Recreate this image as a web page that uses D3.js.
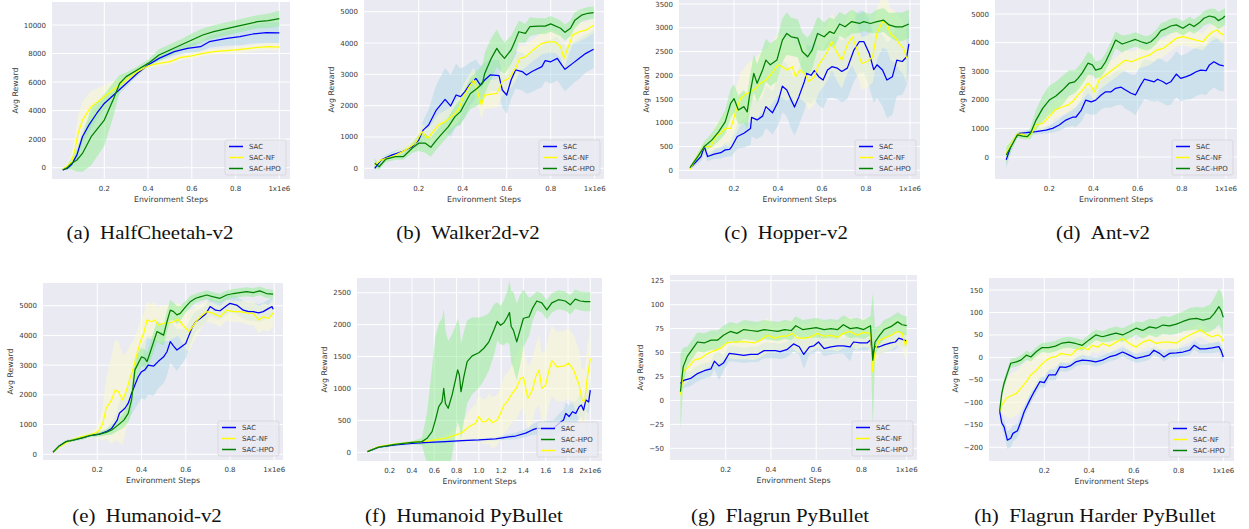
<!DOCTYPE html>
<html><head><meta charset="utf-8">
<script src="https://cdn.jsdelivr.net/npm/d3@7"></script>
<style>
html,body{margin:0;padding:0;background:#fff;}
svg{display:block;}
</style></head>
<body>
<svg id="chart" width="1249" height="529"></svg>
<script>
// ---------------- DATA ----------------
const seriesNames = ["SAC", "SAC-NF", "SAC-HPO"];
const captions = ["(a)\u2002HalfCheetah-v2","(b)\u2002Walker2d-v2","(c)\u2002Hopper-v2","(d)\u2002Ant-v2",
  "(e)\u2002Humanoid-v2","(f)\u2002Humanoid PyBullet","(g)\u2002Flagrun PyBullet","(h)\u2002Flagrun Harder PyBullet"];
const xTicks1M = [0.2,0.4,0.6,0.8,1.0];
const xTickLabels1M = ["0.2","0.4","0.6","0.8","1x1e6"];
const xTicks2M = [0.2,0.4,0.6,0.8,1.0,1.2,1.4,1.6,1.8,2.0];
const xTickLabels2M = ["0.2","0.4","0.6","0.8","1.0","1.2","1.4","1.6","1.8","2x1e6"];
const yTicksA = [0,2000,4000,6000,8000,10000];
const yTicksB = [0,1000,2000,3000,4000,5000];
const yTicksC = [0,500,1000,1500,2000,2500,3000,3500];
const yTicksD = [0,1000,2000,3000,4000,5000];
const yTicksE = [0,1000,2000,3000,4000,5000];
const yTicksF = [0,500,1000,1500,2000,2500];
const yTicksG = [-50,-25,0,25,50,75,100,125];
const yTicksH = [-200,-150,-100,-50,0,50,100,150];

// (a) HalfCheetah-v2
const aSacX = [0.01,0.03,0.05,0.075,0.1,0.13,0.165,0.2,0.25,0.3,0.35,0.4,0.45,0.52,0.58,0.64,0.68,0.76,0.82,0.88,0.94,1.0];
const aSac  = [-150,-50,200,900,2170,3000,3800,4500,5200,5900,6600,7200,7660,8130,8360,8480,8830,9070,9180,9370,9460,9450];
const aSacSd= [50,100,200,400,500,500,450,400,350,250,200,150,200,250,300,350,400,500,600,650,700,700];
const aNfX = [0.01,0.03,0.05,0.065,0.08,0.1,0.14,0.2,0.25,0.3,0.35,0.4,0.45,0.5,0.55,0.6,0.65,0.7,0.8,0.9,0.95,1.0];
const aNf  = [-100,100,400,1200,2400,3340,4280,4980,5560,6150,6730,7130,7310,7430,7730,7830,8010,8130,8250,8430,8480,8450];
const aNfSd= [50,200,600,1000,1300,1300,1100,800,600,300,200,150,200,200,200,200,200,200,250,250,250,250];
const aHpoX = [0.01,0.03,0.05,0.075,0.1,0.14,0.2,0.24,0.27,0.3,0.35,0.4,0.45,0.5,0.55,0.6,0.65,0.7,0.8,0.9,0.95,1.0];
const aHpo  = [-150,0,300,540,1000,2170,3340,4740,5900,6380,6850,7310,7900,8250,8600,8950,9300,9530,9880,10230,10300,10450];
const aHpoSd= [50,150,400,800,1300,2000,1800,1200,600,300,250,250,400,400,400,450,450,450,450,450,500,550];

// (b) Walker2d-v2
const bSacX = [0,0.03,0.08,0.125,0.17,0.2,0.22,0.245,0.28,0.32,0.345,0.37,0.39,0.41,0.43,0.46,0.48,0.5,0.525,0.565,0.58,0.6,0.62,0.64,0.67,0.69,0.715,0.76,0.775,0.8,0.83,0.85,0.865,0.9,0.93,0.96,0.995];
const bSac  = [0,270,430,530,690,900,1220,1380,1860,2200,1990,2340,2290,2450,2660,2870,2660,2820,2980,2960,2500,2340,2820,3140,3090,2980,3090,3245,3440,3400,3510,3300,3160,3350,3510,3670,3800];
const bSacSd= [50,80,100,120,150,200,300,500,800,1000,1000,1000,900,800,700,600,600,550,500,500,550,600,600,600,600,600,650,650,650,700,700,700,700,650,650,600,600];
const bNfX = [0,0.03,0.08,0.14,0.185,0.215,0.24,0.26,0.29,0.32,0.35,0.38,0.405,0.43,0.45,0.465,0.485,0.5,0.53,0.555,0.58,0.61,0.64,0.66,0.685,0.715,0.76,0.79,0.82,0.845,0.86,0.875,0.9,0.93,0.96,0.995];
const bNf  = [100,270,370,580,800,1170,960,1120,1380,1490,1650,1860,2290,2600,2820,2500,2020,2340,2370,2390,2770,2870,3190,3510,3560,3750,3990,4040,4040,3880,3510,3780,4260,4360,4410,4570];
const bNfSd= [50,80,100,150,200,250,300,300,350,350,350,400,400,400,400,400,450,450,450,450,450,400,400,400,350,350,350,350,350,350,350,300,300,300,250,250];
const bHpoX = [0,0.02,0.05,0.095,0.13,0.17,0.2,0.23,0.255,0.275,0.3,0.335,0.365,0.39,0.41,0.435,0.465,0.49,0.5,0.53,0.555,0.57,0.59,0.62,0.64,0.655,0.685,0.705,0.745,0.775,0.8,0.845,0.865,0.89,0.91,0.94,0.97,0.995];
const bHpo  = [160,50,290,370,370,640,800,800,670,850,1060,1330,1650,1810,2070,2390,2550,2710,3030,3510,3830,3670,3510,3780,4100,4360,4310,4520,4540,4540,4610,4470,4340,4470,4730,4890,4950,4970];
const bHpoSd= [150,100,100,100,100,150,250,300,300,300,300,300,350,400,450,500,550,600,650,650,600,550,500,450,400,350,300,300,250,250,250,250,250,250,250,200,200,200];

// (c) Hopper-v2
const cSacX = [0,0.05,0.065,0.08,0.11,0.14,0.16,0.18,0.19,0.215,0.245,0.275,0.28,0.305,0.33,0.345,0.375,0.4,0.42,0.44,0.46,0.475,0.495,0.52,0.53,0.55,0.565,0.585,0.605,0.625,0.645,0.67,0.69,0.715,0.745,0.77,0.79,0.815,0.835,0.85,0.875,0.895,0.92,0.94,0.965,0.985,0.995];
const cSac  = [40,290,500,290,340,370,430,440,500,710,780,880,1115,1060,1140,1340,1210,1440,1770,1690,1480,1330,1550,1870,2040,2000,2100,1970,1900,2110,2180,2150,2080,2150,2530,2710,2710,2460,2120,2220,2110,1900,1970,2320,2290,2390,2660];
const cSacSd= [30,100,150,100,100,120,150,150,200,250,300,350,400,400,400,450,450,500,550,550,600,600,600,600,600,600,600,600,600,600,650,650,650,650,650,650,650,700,700,700,750,800,800,750,700,600,600];
const cNfX = [0,0.025,0.065,0.095,0.115,0.14,0.16,0.185,0.21,0.23,0.255,0.275,0.3,0.32,0.345,0.365,0.4,0.42,0.44,0.465,0.48,0.5,0.525,0.54,0.565,0.585,0.61,0.625,0.645,0.67,0.69,0.715,0.738,0.76,0.78,0.805,0.83,0.85,0.875,0.895,0.91,0.935,0.95,0.97,0.985];
const cNf  = [20,230,500,500,710,780,880,880,1270,1510,1610,1650,1730,1830,1900,2000,2220,2180,2110,2180,1970,2110,2010,1870,1970,2220,2390,2500,2710,2460,2320,2640,2810,2530,2250,2290,2390,2880,3130,3090,2880,2780,2670,2570,2360];
const cNfSd= [30,80,120,150,250,300,350,400,500,550,600,650,650,650,650,650,650,650,650,650,600,600,600,600,600,600,600,600,600,600,600,600,600,550,550,550,550,550,550,550,550,550,550,550,550];
const cHpoX = [0,0.035,0.065,0.1,0.13,0.16,0.185,0.2,0.22,0.245,0.26,0.27,0.29,0.305,0.33,0.345,0.365,0.395,0.42,0.44,0.46,0.49,0.51,0.535,0.555,0.58,0.61,0.635,0.655,0.68,0.705,0.735,0.77,0.79,0.82,0.85,0.88,0.905,0.935,0.965,0.995];
const cHpo  = [55,290,500,640,810,1020,1410,1510,1270,1340,1230,1550,2040,1830,2110,2320,2220,2320,2740,2880,2810,2780,2500,2390,2530,2880,2810,2920,2880,3080,3020,3130,3090,3130,3090,3130,3160,3060,3020,3020,3080];
const cHpoSd= [30,80,100,150,200,250,300,300,300,350,350,350,400,400,450,450,450,450,450,450,400,400,400,400,400,350,300,300,300,250,250,250,200,200,200,250,250,250,300,300,300];

// (d) Ant-v2
const dSacX = [0.005,0.025,0.05,0.065,0.095,0.14,0.185,0.215,0.245,0.275,0.305,0.32,0.345,0.365,0.39,0.41,0.435,0.455,0.48,0.5,0.525,0.545,0.57,0.59,0.61,0.63,0.655,0.675,0.69,0.715,0.73,0.75,0.775,0.795,0.82,0.84,0.865,0.885,0.91,0.925,0.945,0.97,0.99];
const dSac  = [-100,360,710,830,850,890,940,1000,1120,1290,1390,1390,1640,1990,1930,1990,2170,2280,2280,2400,2440,2340,2230,2170,2460,2720,2670,2630,2720,2630,2550,2630,2900,2750,2810,2870,2980,3040,3020,3220,3330,3220,3190];
const dSacSd= [300,200,100,80,80,100,120,150,200,250,300,350,400,450,450,500,500,550,550,600,600,650,650,700,700,700,700,700,750,750,750,800,800,800,800,850,850,850,850,900,900,900,900];
const dNfX = [0.005,0.035,0.055,0.08,0.1,0.125,0.14,0.17,0.2,0.225,0.255,0.285,0.305,0.33,0.35,0.375,0.39,0.405,0.425,0.455,0.485,0.515,0.545,0.57,0.59,0.62,0.655,0.685,0.715,0.745,0.775,0.805,0.835,0.865,0.895,0.915,0.94,0.96,0.975,0.99];
const dNf  = [130,540,800,800,690,890,1120,1180,1410,1640,1740,1820,1930,2170,2340,2580,2460,2280,2690,2870,3040,3220,3390,3330,3390,3480,3570,3740,3800,3970,4150,4210,4150,4090,4030,4210,4380,4440,4320,4270];
const dNfSd= [300,150,100,100,100,150,200,250,300,300,300,300,300,350,350,350,350,350,350,350,350,350,350,350,350,350,350,350,300,300,300,300,300,300,300,300,300,300,300,300];
const dHpoX = [0.005,0.035,0.055,0.08,0.1,0.115,0.14,0.17,0.2,0.23,0.26,0.29,0.315,0.33,0.35,0.375,0.395,0.41,0.435,0.455,0.48,0.5,0.53,0.56,0.59,0.615,0.64,0.66,0.685,0.705,0.73,0.75,0.775,0.805,0.835,0.855,0.88,0.9,0.925,0.95,0.965,0.985,0.995];
const dHpo  = [70,480,770,730,710,830,1290,1700,1990,2130,2340,2580,2630,2750,2950,3280,3220,3040,3100,3330,3740,4090,3950,4030,4110,4030,3970,4030,4210,4420,4500,4580,4620,4500,4650,4560,4700,4850,4930,4880,4770,4850,4930];
const dHpoSd= [300,150,100,100,100,200,350,450,500,500,500,450,400,400,400,400,350,300,300,300,300,300,300,250,250,250,250,250,250,250,250,250,250,250,250,250,250,250,250,300,300,300,300];

// (e) Humanoid-v2
const eSacX = [0,0.025,0.06,0.09,0.135,0.165,0.21,0.24,0.265,0.29,0.3,0.325,0.34,0.355,0.37,0.385,0.4,0.415,0.43,0.455,0.475,0.5,0.515,0.53,0.545,0.56,0.58,0.6,0.615,0.63,0.645,0.665,0.69,0.71,0.735,0.755,0.78,0.8,0.83,0.86,0.885,0.905,0.93,0.95,0.975,0.99,0.995];
const eSac  = [70,260,430,480,560,630,680,760,870,1150,1380,1550,1720,2050,2330,2610,2780,2840,3000,2970,3120,3280,3450,3790,3640,3510,3620,3730,4010,4290,4460,4570,4720,4970,4850,4830,4970,5080,5020,4850,4800,4800,4760,4800,4910,4970,4880];
const eSacSd= [30,50,50,50,60,60,80,100,200,300,400,500,600,700,800,900,900,1000,1000,1000,900,900,800,700,700,700,600,500,450,400,350,300,300,300,300,300,300,300,300,300,300,300,300,300,300,300,300];
const eNfX = [0,0.03,0.075,0.12,0.165,0.195,0.21,0.225,0.24,0.265,0.28,0.295,0.315,0.33,0.35,0.365,0.38,0.395,0.41,0.425,0.445,0.46,0.475,0.5,0.52,0.545,0.565,0.58,0.6,0.615,0.63,0.65,0.675,0.695,0.725,0.755,0.785,0.815,0.845,0.875,0.905,0.93,0.95,0.975,0.995];
const eNf  = [70,260,450,570,650,730,820,1040,1550,1830,2160,2110,1830,2110,2610,2950,3400,3790,4070,4520,4460,4520,4350,4410,4410,4460,4540,4410,4240,4130,4290,4500,4690,4800,4740,4630,4850,4800,4800,4760,4740,4520,4630,4570,4760];
const eNfSd= [30,50,60,80,100,150,300,600,1000,1500,1700,1700,1500,1300,1100,900,800,700,700,600,600,600,600,600,600,550,550,600,700,700,600,500,400,350,350,350,350,350,350,400,400,450,450,450,450];
const eHpoX = [0,0.025,0.06,0.09,0.135,0.165,0.21,0.24,0.265,0.295,0.32,0.34,0.355,0.37,0.385,0.4,0.415,0.425,0.44,0.455,0.47,0.485,0.5,0.515,0.53,0.545,0.56,0.575,0.6,0.62,0.645,0.665,0.695,0.725,0.755,0.785,0.815,0.845,0.875,0.905,0.935,0.965,0.995];
const eHpo  = [70,260,430,480,560,630,680,740,820,990,1150,1380,1830,2840,3060,3280,3230,3120,3450,3790,4130,4070,4010,4460,4850,4800,4690,4740,4970,5130,5250,5300,5360,5300,5250,5360,5410,5440,5470,5440,5500,5410,5390];
const eHpoSd= [30,50,50,50,60,60,80,100,150,200,250,300,400,400,350,300,300,300,300,350,350,350,350,350,350,300,300,250,200,200,150,150,150,150,150,150,150,150,150,150,150,150,150];

// (f) Humanoid PyBullet
const fSacX = [0,0.1,0.25,0.4,0.55,0.7,0.85,1.0,1.15,1.24,1.33,1.42,1.48,1.52,1.6,1.67,1.72,1.76,1.78,1.81,1.84,1.87,1.9,1.92,1.94,1.96,1.985,2.0];
const fSac  = [10,80,115,140,155,167,183,193,210,235,255,300,350,375,375,375,455,505,610,560,635,610,715,740,660,820,790,975];
const fSacSd= [10,15,20,20,20,20,20,25,30,40,50,60,80,100,120,130,150,160,170,170,170,180,180,180,180,180,180,180];
const fNfX = [0,0.1,0.25,0.4,0.55,0.7,0.79,0.85,0.91,0.97,1.0,1.03,1.06,1.09,1.12,1.165,1.195,1.225,1.255,1.3,1.335,1.375,1.4,1.44,1.48,1.51,1.54,1.565,1.6,1.63,1.655,1.7,1.76,1.805,1.85,1.9,1.925,1.95,1.97,2.0];
const fNf  = [10,90,130,155,180,220,270,310,400,455,560,480,480,530,465,505,610,740,795,925,1000,1160,1175,845,975,1185,1290,1000,1055,1290,1435,1340,1350,1395,1290,1055,820,795,1130,1470];
const fNfSd= [10,15,20,20,30,50,100,150,250,300,350,350,350,400,400,400,400,450,450,450,500,500,500,500,500,500,550,550,550,550,550,550,550,550,550,550,500,500,500,500];
const fHpoX = [0,0.1,0.25,0.4,0.49,0.535,0.58,0.61,0.64,0.67,0.685,0.7,0.725,0.76,0.79,0.81,0.825,0.84,0.865,0.895,0.94,1.0,1.045,1.09,1.135,1.165,1.195,1.225,1.255,1.275,1.29,1.31,1.34,1.37,1.4,1.45,1.48,1.52,1.565,1.61,1.655,1.715,1.775,1.82,1.865,1.91,1.955,2.0];
const fHpo  = [10,80,125,155,167,220,325,505,715,795,1000,765,690,900,1130,1290,1210,950,1180,1420,1510,1560,1630,1730,1915,2050,1990,2030,2120,2190,1970,1915,1730,1915,2100,2120,2250,2370,2340,2230,2340,2390,2370,2310,2400,2370,2360,2360];
const fHpoSd= [10,15,20,20,60,400,1000,1300,1300,1300,1250,1150,1050,950,850,800,800,750,700,650,600,550,500,450,400,300,300,350,400,500,550,600,600,550,450,300,200,150,150,150,150,150,150,150,150,150,150,150];

// (g) Flagrun PyBullet
const gSacX = [0,0.015,0.045,0.075,0.105,0.135,0.15,0.17,0.19,0.215,0.25,0.28,0.31,0.34,0.37,0.4,0.42,0.44,0.47,0.5,0.525,0.545,0.57,0.59,0.61,0.635,0.665,0.695,0.72,0.75,0.765,0.795,0.825,0.84,0.85,0.86,0.88,0.9,0.93,0.95,0.965,0.99,1.0];
const gSac  = [18,21,23,28,31,33,41,36,39,49,48,47,48,48,52,52,52,51,53,59,56,48,56,57,61,54,56,57,57,56,61,60,60,63,46,56,56,58,60,61,65,63,62];
const gSacSd= [8,8,8,8,8,8,8,15,8,8,8,8,8,8,8,8,8,8,8,8,8,15,8,8,8,8,8,8,8,15,8,8,8,8,10,8,8,8,8,8,8,8,8];
const gNfX = [0,0.015,0.04,0.06,0.09,0.12,0.15,0.175,0.205,0.235,0.265,0.295,0.325,0.355,0.385,0.415,0.445,0.47,0.495,0.515,0.545,0.575,0.605,0.635,0.665,0.695,0.72,0.75,0.78,0.81,0.84,0.85,0.86,0.88,0.9,0.93,0.96,0.98,0.995,1.0];
const gNf  = [6,31,36,42,44,49,52,54,60,61,61,61,60,63,68,65,67,67,70,65,65,66,70,67,68,66,70,72,68,71,70,30,53,63,65,68,72,70,57,63];
const gNfSd= [20,15,15,15,15,15,15,15,15,18,18,18,18,18,18,15,15,15,15,15,15,15,15,15,15,15,15,15,15,15,15,20,15,15,15,15,15,15,15,15];
const gHpoX = [0,0.012,0.03,0.06,0.075,0.105,0.135,0.165,0.19,0.22,0.25,0.28,0.31,0.34,0.37,0.4,0.43,0.46,0.49,0.51,0.54,0.57,0.6,0.635,0.665,0.695,0.72,0.75,0.78,0.81,0.84,0.85,0.86,0.88,0.9,0.93,0.96,0.98,1.0];
const gHpo  = [9,35,46,56,61,60,63,63,68,72,70,74,73,72,74,73,72,74,73,78,74,75,76,74,75,74,79,75,76,74,78,42,61,68,74,77,82,79,78];
const gHpoSd= [40,20,10,10,10,10,10,10,10,10,10,10,10,10,10,10,10,10,10,10,10,10,10,10,10,10,10,10,10,10,10,70,15,10,10,10,10,10,10];

// (h) Flagrun Harder PyBullet
const hSacX = [0,0.01,0.02,0.035,0.05,0.06,0.08,0.095,0.11,0.135,0.155,0.18,0.2,0.22,0.25,0.27,0.295,0.315,0.34,0.37,0.4,0.43,0.46,0.49,0.52,0.55,0.58,0.61,0.64,0.67,0.69,0.715,0.735,0.76,0.79,0.82,0.85,0.87,0.895,0.92,0.95,0.98,0.99,1.0];
const hSac  = [-118,-146,-154,-184,-180,-169,-163,-143,-121,-95,-76,-54,-56,-39,-39,-21,-22,-19,-10,-6,-7,-10,-6,1,5,12,5,-2,1,5,16,9,1,9,10,12,16,27,19,19,21,24,15,1];
const hSacSd= [10,12,15,20,20,18,15,15,12,12,12,12,12,12,12,10,10,10,10,10,10,10,10,10,10,10,10,10,10,10,10,10,10,10,10,10,10,10,10,10,12,12,12,15];
const hNfX = [0,0.01,0.03,0.05,0.075,0.095,0.12,0.14,0.165,0.185,0.21,0.23,0.25,0.275,0.295,0.32,0.34,0.37,0.395,0.415,0.44,0.46,0.49,0.52,0.55,0.58,0.61,0.64,0.67,0.7,0.73,0.76,0.79,0.82,0.85,0.88,0.9,0.93,0.95,0.975,0.99,1.0];
const hNf  = [-121,-106,-91,-86,-80,-69,-54,-39,-28,-17,-6,0,1,9,7,5,16,22,17,27,23,31,25,34,42,31,23,34,39,31,34,34,32,42,50,57,61,50,46,50,46,35];
const hNfSd= [10,20,40,50,50,50,45,40,35,30,28,25,22,20,20,18,18,15,15,15,15,15,15,15,15,15,15,15,15,15,15,15,15,15,15,15,15,15,15,15,15,15];
const hHpoX = [0,0.01,0.02,0.035,0.05,0.075,0.095,0.12,0.14,0.165,0.19,0.22,0.25,0.28,0.31,0.34,0.37,0.4,0.43,0.46,0.49,0.52,0.55,0.58,0.61,0.64,0.67,0.7,0.73,0.76,0.79,0.82,0.85,0.88,0.91,0.94,0.96,0.98,0.99,1.0];
const hHpo  = [-121,-80,-58,-35,-13,-10,-6,5,1,13,22,22,25,32,34,31,27,39,50,46,50,54,50,57,65,60,68,65,72,70,74,80,85,87,83,87,98,113,105,89];
const hHpoSd= [10,10,10,10,10,10,10,10,10,10,10,12,12,12,12,12,12,12,12,12,15,15,15,15,15,18,18,20,20,20,22,22,25,25,28,30,35,40,40,40];

// ---------------- STYLE / LAYOUT ----------------
const lineColors = {"SAC":"#0000ff","SAC-NF":"#ffff00","SAC-HPO":"#008000"};
const bandColors = {"SAC":"#add8e6","SAC-NF":"#fafad2","SAC-HPO":"#90ee90"};
const bandOpacity = {"SAC":0.5,"SAC-NF":0.55,"SAC-HPO":0.5};

const panels = [
 {box:[52,2,290,179], xc:[[0.2,104.3],[1,279.3]], yc:[[0,167.7],[10000,25]], yt:yTicksA, xt:xTicks1M, xl:xTickLabels1M,
  cap:[150,239], order:[0,1,2], s:[[aSacX,aSac,aSacSd],[aNfX,aNf,aNfSd],[aHpoX,aHpo,aHpoSd]]},
 {box:[364,0,604,179], xc:[[0.2,418.7],[1,594.7]], yc:[[0,168.3],[5000,11.7]], yt:yTicksB, xt:xTicks1M, xl:xTickLabels1M,
  cap:[468,239], order:[0,1,2], s:[[bSacX,bSac,bSacSd],[bNfX,bNf,bNfSd],[bHpoX,bHpo,bHpoSd]]},
 {box:[679,0,920,179], xc:[[0.2,734],[1,910]], yc:[[0,170.3],[3500,4]], yt:yTicksC, xt:xTicks1M, xl:xTickLabels1M,
  cap:[786,239], order:[0,1,2], s:[[cSacX,cSac,cSacSd],[cNfX,cNf,cNfSd],[cHpoX,cHpo,cHpoSd]]},
 {box:[995,0,1237,179], xc:[[0.2,1049.3],[1,1226]], yc:[[0,157],[5000,14]], yt:yTicksD, xt:xTicks1M, xl:xTickLabels1M,
  cap:[1103,239], order:[0,1,2], s:[[dSacX,dSac,dSacSd],[dNfX,dNf,dNfSd],[dHpoX,dHpo,dHpoSd]]},
 {box:[43,283,283,460], xc:[[0.2,97.3],[0.8,230]], yc:[[0,454.3],[5000,305.7]], yt:yTicksE, xt:xTicks1M, xl:xTickLabels1M,
  cap:[147,522], order:[0,1,2], s:[[eSacX,eSac,eSacSd],[eNfX,eNf,eNfSd],[eHpoX,eHpo,eHpoSd]]},
 {box:[357,278,602,461], xc:[[0.2,389.7],[2,590.3]], yc:[[0,452.3],[2500,292.7]], yt:yTicksF, xt:xTicks2M, xl:xTickLabels2M,
  cap:[464,522], order:[0,2,1], s:[[fSacX,fSac,fSacSd],[fNfX,fNf,fNfSd],[fHpoX,fHpo,fHpoSd]]},
 {box:[670,275,917,460], xc:[[0.2,725.7],[1,906.7]], yc:[[125,280.7],[-50,448.3]], yt:yTicksG, xt:xTicks1M, xl:xTickLabels1M,
  cap:[780,522], order:[0,1,2], s:[[gSacX,gSac,gSacSd],[gNfX,gNf,gNfSd],[gHpoX,gHpo,gHpoSd]]},
 {box:[989,278,1234,461], xc:[[0.2,1044.3],[1,1223.3]], yc:[[150,290],[-200,447.3]], yt:yTicksH, xt:xTicks1M, xl:xTickLabels1M,
  cap:[1095,522], order:[0,1,2], s:[[hSacX,hSac,hSacSd],[hNfX,hNf,hNfSd],[hHpoX,hHpo,hHpoSd]]}
];

const svg = d3.select("#chart");
const FONT = "DejaVu Sans, sans-serif";
const TEXT = "#3a3a3a";

panels.forEach((p, i) => {
  const [L,T,R,B] = p.box;
  const x = d3.scaleLinear().domain([p.xc[0][0], p.xc[1][0]]).range([p.xc[0][1], p.xc[1][1]]);
  const y = d3.scaleLinear().domain([p.yc[0][0], p.yc[1][0]]).range([p.yc[0][1], p.yc[1][1]]);
  const g = svg.append("g");
  g.append("rect").attr("x",L).attr("y",T).attr("width",R-L).attr("height",B-T).attr("fill","#eaeaf2");
  const cid = "clip"+i;
  svg.append("defs").append("clipPath").attr("id",cid).append("rect").attr("x",L).attr("y",T).attr("width",R-L).attr("height",B-T);

  // grid
  g.selectAll(".gx").data(p.xt).join("line").attr("x1",d=>x(d)).attr("x2",d=>x(d)).attr("y1",T).attr("y2",B)
    .attr("stroke","#fff").attr("stroke-width",1);
  g.selectAll(".gy").data(p.yt).join("line").attr("x1",L).attr("x2",R).attr("y1",d=>y(d)).attr("y2",d=>y(d))
    .attr("stroke","#fff").attr("stroke-width",1);

  const plot = g.append("g").attr("clip-path",`url(#${cid})`);
  const rows = p.s.map((arr, k) => ({name: seriesNames[k], pts: arr[0].map((xv, j) => ({x:xv, m:arr[1][j], sd:arr[2][j]}))}));
  const area = d3.area().x(d=>x(d.x)).y0(d=>y(d.m - d.sd)).y1(d=>y(d.m + d.sd));
  const line = d3.line().x(d=>x(d.x)).y(d=>y(d.m));
  rows.forEach(r => {
    plot.append("path").attr("d", area(r.pts)).attr("fill", bandColors[r.name]).attr("fill-opacity", bandOpacity[r.name]);
  });
  rows.forEach(r => {
    plot.append("path").attr("d", line(r.pts)).attr("fill","none").attr("stroke", lineColors[r.name])
      .attr("stroke-width",1.25).attr("stroke-linejoin","round");
  });

  // y tick labels
  const yl = g.selectAll(".yl").data(p.yt).join("text").attr("x", L-6).attr("y", d=>y(d)+2.5)
    .attr("text-anchor","end").attr("font-family",FONT).attr("font-size",7).attr("fill",TEXT).text(d=>String(d).replace("-","\u2212"));
  let maxW = 0; yl.each(function(){ maxW = Math.max(maxW, this.getComputedTextLength()); });
  // x tick labels
  g.selectAll(".xl").data(p.xt).join("text").attr("x", d=>x(d)).attr("y", B+11.5)
    .attr("text-anchor","middle").attr("font-family",FONT).attr("font-size",7).attr("fill",TEXT).text((d,j)=>p.xl[j]);
  // axis titles
  g.append("text").attr("x",(L+R)/2).attr("y",B+22.5).attr("text-anchor","middle").attr("font-family",FONT)
    .attr("font-size",7.8).attr("fill",TEXT).text("Environment Steps");
  const tx = L - 6 - maxW - 6;
  g.append("text").attr("transform",`translate(${tx},${(T+B)/2}) rotate(-90)`).attr("text-anchor","middle")
    .attr("font-family",FONT).attr("font-size",7.8).attr("fill",TEXT).text("Avg Reward");

  // legend
  const lw = 61, lh = 35, lx = R-4-lw, ly = B-4-lh;
  const lg = g.append("g");
  lg.append("rect").attr("x",lx).attr("y",ly).attr("width",lw).attr("height",lh).attr("rx",2)
    .attr("fill","#eaeaf2").attr("fill-opacity",0.8).attr("stroke","#cccccc").attr("stroke-width",0.6);
  p.order.forEach((k, j) => {
    const yy = ly + 6.5 + j*11;
    lg.append("line").attr("x1",lx+4).attr("x2",lx+18).attr("y1",yy).attr("y2",yy)
      .attr("stroke",lineColors[seriesNames[k]]).attr("stroke-width",1.5);
    lg.append("text").attr("x",lx+24).attr("y",yy+2.5).attr("font-family",FONT).attr("font-size",7)
      .attr("fill",TEXT).text(seriesNames[k]);
  });

  // caption (glyphs slightly wider than the installed Times metric, so stretched horizontally)
  svg.append("text").attr("transform",`translate(${p.cap[0]},${p.cap[1]}) scale(1.13,1)`).attr("text-anchor","middle")
    .attr("font-family","Liberation Serif, Times New Roman, serif").attr("font-size",18.5).attr("fill","#111")
    .text(captions[i]);
});
</script>
</body></html>
